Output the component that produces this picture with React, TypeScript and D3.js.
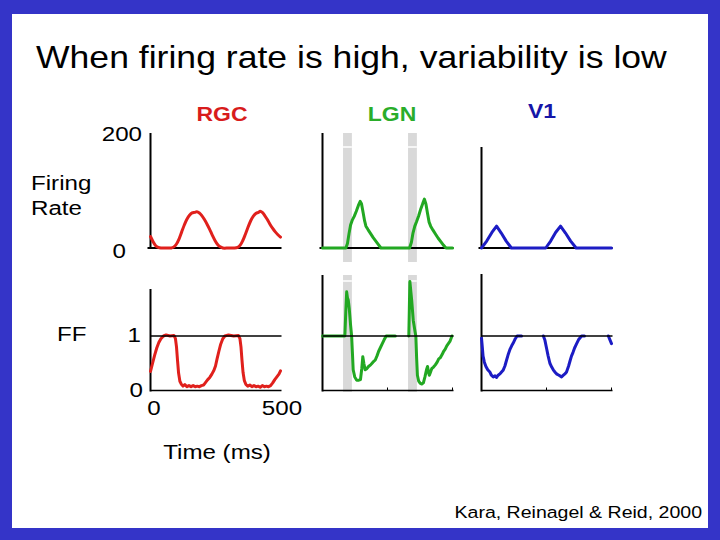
import React from 'react';
import * as d3 from 'd3';

// time axis of every panel, ms
const timeDomain: [number, number] = [0, 500];
// grey stimulus bands in the LGN panels, ms
const bandsMs: [number, number][] = [[79, 113], [329, 363]];

// firing rate (spikes/s) traces, [time ms, rate]
const rgcRate: [number, number][] = [
  [0, 20], [10, 11], [20, 4], [30, 1], [40, 0], [60, 0], [80, 0], [90, 2], [100, 7], [110, 16],
  [120, 28], [130, 40], [140, 50], [150, 57], [160, 61], [170, 62], [178, 63], [188, 61], [198, 56],
  [208, 49], [218, 41], [228, 32], [238, 22], [248, 13], [258, 6], [268, 2], [278, 0], [300, 0],
  [320, 0], [335, 1], [345, 5], [355, 13], [365, 24], [375, 36], [385, 47], [395, 55], [405, 60],
  [415, 62], [422, 64], [430, 62], [440, 56], [450, 49], [460, 41], [470, 34], [480, 28], [490, 23],
  [500, 19],
];
const lgnRate: [number, number][] = [
  [0, 0], [90, 0], [96, 8], [102, 25], [108, 40], [115, 49], [122, 55], [130, 64], [138, 74],
  [145, 81], [150, 77], [156, 62], [162, 47], [167, 38], [175, 32], [185, 25], [195, 18], [205, 12],
  [215, 6], [225, 0], [335, 0], [342, 10], [348, 26], [355, 38], [362, 46], [370, 56], [378, 68],
  [386, 78], [392, 85], [398, 76], [404, 60], [410, 45], [416, 38], [425, 31], [435, 24], [445, 17],
  [455, 11], [465, 5], [475, 0], [500, 0],
];
const v1Rate: [number, number][] = [
  [0, 0], [20, 12], [40, 27], [58, 38], [76, 26], [95, 12], [115, 0], [247, 0], [266, 12],
  [285, 27], [304, 38], [323, 26], [343, 12], [364, 0], [500, 0],
];

// Fano factor traces, [time ms, FF]; null breaks the line
const rgcFF: [number, number | null][] = [
  [0, 0.35], [8, 0.5], [16, 0.65], [24, 0.78], [32, 0.88], [40, 0.95], [50, 1.0], [60, 1.02],
  [75, 1.0], [90, 1.01], [96, 0.95], [100, 0.8], [104, 0.55], [108, 0.32], [113, 0.17], [118, 0.12],
  [125, 0.08], [132, 0.11], [140, 0.07], [148, 0.09], [156, 0.07], [164, 0.09], [172, 0.07],
  [180, 0.08], [188, 0.07], [196, 0.09], [204, 0.1], [212, 0.15], [220, 0.2], [228, 0.24],
  [236, 0.3], [244, 0.37], [250, 0.45], [256, 0.58], [263, 0.72], [270, 0.85], [278, 0.95],
  [286, 1.0], [300, 1.02], [320, 1.0], [338, 1.01], [344, 0.95], [348, 0.8], [352, 0.55],
  [356, 0.33], [361, 0.18], [367, 0.11], [374, 0.08], [382, 0.1], [390, 0.07], [398, 0.09],
  [406, 0.07], [414, 0.08], [422, 0.06], [430, 0.09], [438, 0.07], [446, 0.08], [454, 0.07],
  [462, 0.09], [470, 0.14], [478, 0.2], [486, 0.25], [494, 0.3], [500, 0.36],
];
const lgnFF: [number, number | null][] = [
  [0, 1], [86, 1], [90, 1.5], [93, 1.81], [96, 1.7], [99, 1.66], [103, 1.5], [108, 1.2], [112, 1.0],
  [115, 0.7], [118, 0.38], [124, 0.25], [131, 0.19], [140, 0.19], [146, 0.2], [151, 0.4],
  [155, 0.62], [159, 0.5], [164, 0.38], [170, 0.4], [177, 0.44], [185, 0.47], [194, 0.52],
  [203, 0.56], [210, 0.64], [216, 0.72], [222, 0.78], [230, 0.86], [237, 0.93], [245, 1.0],
  [280, 1.0], [300, null], [332, 1.0], [334, 1.5], [336, 2.0], [343, 1.66], [349, 1.29], [356, 1.08],
  [359, 1.0], [362, 0.6], [365, 0.28], [370, 0.17], [376, 0.13], [382, 0.12], [388, 0.14],
  [394, 0.25], [400, 0.38], [404, 0.44], [408, 0.33], [411, 0.28], [415, 0.33], [420, 0.4],
  [427, 0.43], [434, 0.47], [441, 0.52], [447, 0.58], [453, 0.6], [460, 0.66], [466, 0.72],
  [472, 0.76], [478, 0.82], [484, 0.86], [490, 0.9], [498, 1.0],
];
const v1FF: [number, number | null][] = [
  [0, 0.96], [3, 0.8], [6, 0.63], [11, 0.52], [17, 0.44], [24, 0.38], [32, 0.34], [38, 0.28],
  [45, 0.25], [52, 0.27], [58, 0.24], [64, 0.28], [72, 0.31], [83, 0.37], [90, 0.45], [96, 0.55],
  [102, 0.65], [110, 0.76], [116, 0.82], [122, 0.87], [130, 0.95], [137, 1.0], [154, 1.0],
  [170, null], [238, 1.0], [244, 0.92], [250, 0.78], [256, 0.64], [263, 0.5], [270, 0.43],
  [276, 0.38], [282, 0.34], [290, 0.3], [298, 0.28], [308, 0.25], [315, 0.28], [322, 0.31],
  [327, 0.34], [335, 0.45], [341, 0.55], [346, 0.63], [352, 0.7], [358, 0.78], [365, 0.85],
  [373, 0.93], [385, 1.0], [396, 1.0], [420, null], [488, 1.0], [494, 0.93], [500, 0.86],
];

const FONT = '"Liberation Sans", Arial, Helvetica, sans-serif';
const BORDER = '#3434c8';

const panels = [
  { name: 'RGC', x0: 150.5, rate: rgcRate, ff: rgcFF, line: '#e0201c', head: '#d81c1c', headX: 222, headY: 121, rateTop: 133, ffTop: 289, bands: false },
  { name: 'LGN', x0: 322.5, rate: lgnRate, ff: lgnFF, line: '#22a822', head: '#2aad2a', headX: 392, headY: 121, rateTop: 133, ffTop: 275, bands: true },
  { name: 'V1', x0: 481.5, rate: v1Rate, ff: v1FF, line: '#1c1cc4', head: '#1616a8', headX: 542, headY: 118, rateTop: 147, ffTop: 274, bands: false },
];

const yRate = d3.scaleLinear().domain([0, 200]).range([248, 133]);
const yFF = d3.scaleLinear().domain([0, 1]).range([390.5, 336]);

// the slide is a bit stretched sideways, so is its text
const T = ({ x, y, size, anchor = 'start', weight = 'normal', fill = '#000', sx = 1.15, children }: any) => (
  <text transform={`translate(${x},${y}) scale(${sx},1)`} fontSize={size} textAnchor={anchor} fontWeight={weight} fill={fill}>
    {children}
  </text>
);

const App = () => {
  return (
    <svg width={720} height={540} style={{ position: 'absolute', left: 0, top: 0 }} fontFamily={FONT}>
      <rect x={0} y={0} width={720} height={540} fill={BORDER} />
      <rect x={12} y={14} width={696} height={514} fill="#ffffff" />

      <T x={36} y={67.5} size={31.5} sx={1.13}>When firing rate is high, variability is low</T>

      {panels.map(p => {
        const x = d3.scaleLinear().domain(timeDomain).range([p.x0, p.x0 + 130]);
        const rateLine = d3.line<[number, number]>()
          .x(d => x(d[0]))
          .y(d => yRate(d[1]))
          .curve(p.name === 'RGC' ? d3.curveCatmullRom : d3.curveLinear);
        const ffLine = d3.line<[number, number | null]>()
          .defined(d => d[1] !== null)
          .x(d => x(d[0]))
          .y(d => yFF(d[1] as number));
        const xEnd = x(timeDomain[1]);
        return (
          <g key={p.name}>
            <T x={p.headX} y={p.headY} size={20} weight="bold" fill={p.head} anchor="middle">{p.name}</T>

            {p.bands && bandsMs.map(([a, b], i) => (
              <g key={i}>
                <rect x={x(a)} y={133} width={x(b) - x(a)} height={129} fill="#d9d9d9" />
                <rect x={x(a)} y={275} width={x(b) - x(a)} height={117} fill="#d9d9d9" />
                <line x1={x(a)} x2={x(b)} y1={147} y2={147} stroke="#fff" strokeWidth={1.5} />
                <line x1={x(a)} x2={x(b)} y1={281} y2={281} stroke="#fff" strokeWidth={1.5} />
              </g>
            ))}

            {/* firing rate panel */}
            <line x1={p.x0} x2={p.x0} y1={p.rateTop} y2={yRate(0) + 1} stroke="#000" strokeWidth={2} />
            <line x1={p.x0 - 3} x2={xEnd + 1} y1={yRate(0)} y2={yRate(0)} stroke="#000" strokeWidth={2} />
            <path d={rateLine(p.rate) ?? ''} fill="none" stroke={p.line} strokeWidth={3} strokeLinejoin="round" strokeLinecap="round" />

            {/* Fano factor panel */}
            <line x1={p.x0} x2={p.x0} y1={p.ffTop} y2={yFF(0) + 1} stroke="#000" strokeWidth={2} />
            <line x1={p.x0} x2={xEnd + 1} y1={yFF(0)} y2={yFF(0)} stroke="#000" strokeWidth={1.5} />
            {p.name !== 'RGC' && [250, 500].map(t => (
              <line key={t} x1={x(t)} x2={x(t)} y1={yFF(0)} y2={yFF(0) - 3} stroke="#000" strokeWidth={1} />
            ))}
            <path d={ffLine(p.ff) ?? ''} fill="none" stroke={p.line} strokeWidth={3} strokeLinejoin="round" strokeLinecap="round" />
            <line x1={p.x0} x2={xEnd + 1} y1={yFF(1)} y2={yFF(1)} stroke="#000" strokeWidth={1.3} />
          </g>
        );
      })}

      {/* axis labels */}
      <T x={142} y={yRate(200) + 8} size={21} anchor="end">200</T>
      <T x={126} y={yRate(0) + 10} size={21} anchor="end">0</T>
      <T x={31} y={190} size={21}>Firing</T>
      <T x={31} y={215} size={21}>Rate</T>

      <T x={57} y={341} size={21}>FF</T>
      <T x={141} y={yFF(1) + 6} size={21} anchor="end">1</T>
      <T x={143} y={yFF(0) + 6} size={21} anchor="end">0</T>
      <T x={154} y={415} size={21} anchor="middle">0</T>
      <T x={282} y={415} size={21} anchor="middle">500</T>
      <T x={217} y={459} size={21} anchor="middle">Time (ms)</T>

      <T x={702} y={518} size={17} anchor="end">Kara, Reinagel &amp; Reid, 2000</T>
    </svg>
  );
};

export default App;
